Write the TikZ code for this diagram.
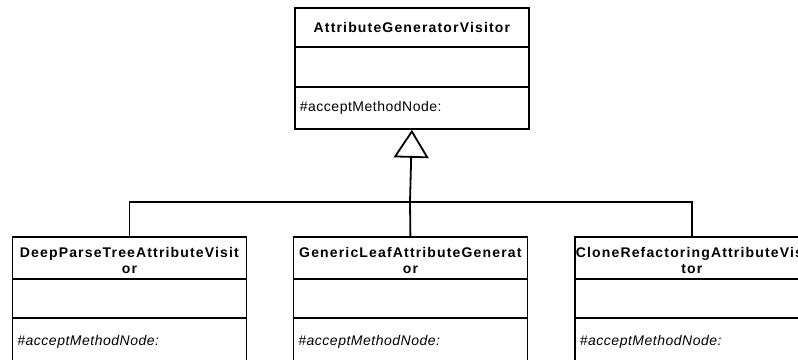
\documentclass[tikz,border=0pt]{standalone}
\usepackage{fontspec}
\setmainfont{Liberation Sans}
\newfontfamily\umltitlefont[LetterSpace=8.3]{Liberation Sans}
\newfontfamily\umlbodyfont[LetterSpace=3.6]{Liberation Sans}
\usetikzlibrary{arrows.meta,calc}
\begin{document}
\begin{tikzpicture}[x=1pt,y=-1pt,line width=1.8pt,
  cls/.style={draw,rectangle,anchor=north west,inner sep=0pt,minimum width=234pt,minimum height=#1},
  title/.style={font=\umltitlefont\bfseries\fontsize{14}{16}\selectfont,align=center,inner sep=0pt},
  meth/.style={font=\umlbodyfont\fontsize{14}{16}\selectfont,anchor=west,inner sep=0pt},
  imeth/.style={font=\umlbodyfont\itshape\fontsize{14}{16}\selectfont,anchor=west,inner sep=0pt},
  gen/.style={-{Triangle[open,length=28pt,width=35pt,line width=1.8pt]}}]
\useasboundingbox (0,0) rectangle (798,359);
\clip (0,0) rectangle (798,359);
% top class
\node[cls=121pt] (top) at (294,7) {};
\draw ([yshift=-40pt]top.north west) -- ([yshift=-40pt]top.north east);
\draw ([yshift=-80pt]top.north west) -- ([yshift=-80pt]top.north east);
\node[title] (toptitle) at ($(top.north)+(0,20.5)$) {AttributeGeneratorVisitor};
\node[meth] (topm) at ($(top.north west)+(5,101)$) {\#acceptMethodNode:};
% bottom classes
\node[cls=160pt] (left) at (11.5,236) {};
\node[cls=160pt] (mid) at (292.5,236) {};
\node[cls=160pt] (right) at (574,236) {};
\foreach \b in {left,mid,right}{
  \draw ([yshift=-43pt]\b.north west) -- ([yshift=-43pt]\b.north east);
  \draw ([yshift=-82pt]\b.north west) -- ([yshift=-82pt]\b.north east);
}
\node[title] (lefttitle) at ($(left.north)+(0,24)$) {DeepParseTreeAttributeVisit\\or};
\node[title] (midtitle) at ($(mid.north)+(0,24)$) {GenericLeafAttributeGenerat\\or};
\node[title] (righttitle) at ($(right.north)+(0,24)$) {CloneRefactoringAttributeVisi\\tor};
\node[imeth] (leftm) at ($(left.north west)+(5,106)$) {\#acceptMethodNode:};
\node[imeth] (midm) at ($(mid.north west)+(5,106)$) {\#acceptMethodNode:};
\node[imeth] (rightm) at ($(right.north west)+(5,106)$) {\#acceptMethodNode:};
% connectors
\coordinate (j) at (410,202);
\draw (left.north) |- (j) -| (right.north);
\draw (mid.north) -- (j);
\draw[gen] (j) -- (top.south);
\end{tikzpicture}
\end{document}
